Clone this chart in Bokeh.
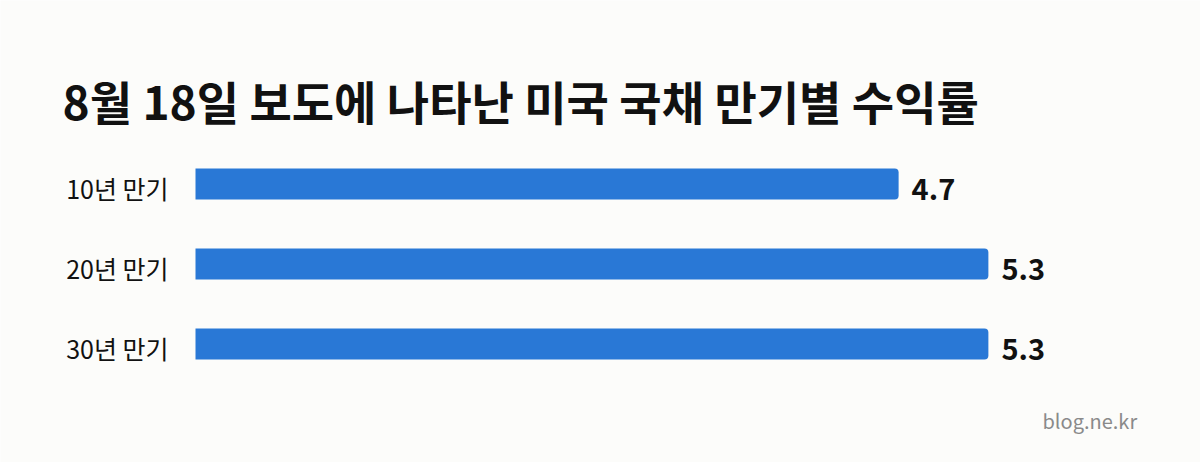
from bokeh.plotting import figure
from bokeh.models import Range1d, Label, ColumnDataSource
from bokeh.core.properties import value
from bokeh.embed import file_html
from bokeh.resources import INLINE

title_text = "8월 18일 보도에 나타난 미국 국채 만기별 수익률"
categories = ["10년 만기", "20년 만기", "30년 만기"]
yields = [4.7, 5.3, 5.3]
value_labels = ["4.7", "5.3", "5.3"]
source_text = "blog.ne.kr"

BG = "#fcfcfa"
BAR = "#2978d6"
FONT = "Noto Sans CJK KR"

W, H = 1200, 462
px_per_unit = 149.6
x0_px = 195
x_start = -x0_px / px_per_unit
x_end = x_start + W / px_per_unit

row_px = 80.0
first_center = 183.5
y_top = -first_center / row_px
y_bottom = y_top + H / row_px

p = figure(width=W, height=H, output_backend="svg", toolbar_location=None,
           x_range=Range1d(x_start, x_end), y_range=Range1d(y_bottom, y_top),
           min_border=0, min_border_left=0, min_border_right=0,
           min_border_top=0, min_border_bottom=0)
p.title.visible = False
p.axis.visible = False
p.grid.visible = False
p.outline_line_color = None
p.background_fill_color = BG
p.border_fill_color = BG

idx = list(range(len(categories)))
src = ColumnDataSource(dict(y=idx, v=yields, cat=categories, lab=value_labels,
                            zero=[0] * len(idx)))

p.hbar(y="y", left=0, right="v", height=31 / row_px, source=src,
       fill_color=BAR, line_color=None, border_radius=(0, 4, 4, 0))

p.text(x="zero", y="y", text="cat", source=src, text_align="right",
       text_baseline="middle", x_offset=-27, y_offset=4,
       text_font=value(FONT), text_font_size="25px", text_color="#111111")

p.text(x="v", y="y", text="lab", source=src, text_align="left",
       text_baseline="middle", x_offset=13, y_offset=5,
       text_font=value(FONT), text_font_size="29px", text_font_style="bold",
       text_color="#111111")

p.add_layout(Label(x=62, y=H - 99, x_units="screen", y_units="screen",
                   text=title_text, text_font=FONT, text_font_size="46px",
                   text_font_style="bold", text_color="#111111",
                   text_baseline="middle"))

p.add_layout(Label(x=1042, y=H - 420, x_units="screen", y_units="screen",
                   text=source_text, text_font=FONT, text_font_size="20px",
                   text_color="#8a8a8a", text_baseline="middle"))

html = file_html(p, INLINE)
html = html.replace("<body>", '<body style="background:%s">' % BG, 1)
open("out.html", "w").write(html)
